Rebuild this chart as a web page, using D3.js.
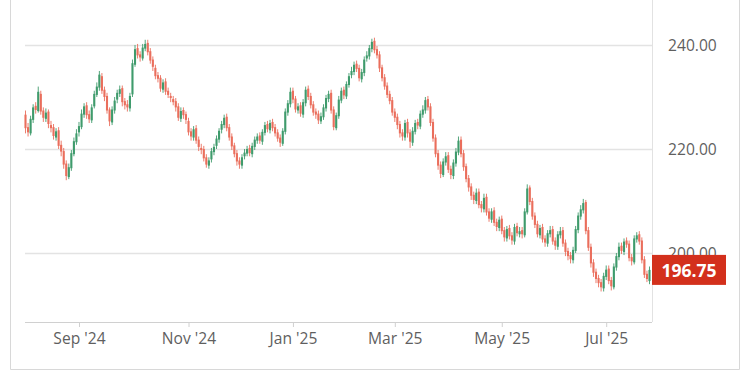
<!DOCTYPE html>
<html><head><meta charset="utf-8">
<script src="https://cdn.jsdelivr.net/npm/d3@7"></script>
<style>
html,body{margin:0;padding:0;background:#fff;}
svg{display:block;}
text{font-family:"Open Sans",sans-serif;}
</style></head>
<body>
<svg id="chart" width="750" height="379"></svg>
<script>
// ---- data ----
const startDate = "2024-08-02";
const holidays = ["2024-09-02","2024-11-28","2024-12-25","2025-01-01","2025-01-20","2025-02-17","2025-04-18","2025-05-26","2025-06-19","2025-07-04"];
const opens = [226.6,224.2,223.0,225.6,228.3,227.3,230.6,227.4,225.8,227.2,224.6,224.2,222.2,223.6,220.8,219.6,217.2,214.6,216.3,219.0,
221.3,223.2,224.2,226.6,228.4,226.7,225.5,228.2,230.4,231.8,234.0,231.4,230.2,227.6,225.1,227.4,229.5,230.6,231.7,229.2,
228.6,227.8,230.5,236.2,239.4,238.2,237.4,239.3,240.4,238.8,237.2,235.6,234.2,233.7,231.4,233.0,231.2,230.2,229.6,229.2,
228.2,225.8,227.5,226.7,225.4,223.4,222.2,224.0,221.8,220.2,220.0,218.4,216.8,218.0,219.4,220.6,221.8,223.7,224.6,226.2,
224.2,222.4,220.7,219.2,217.8,216.8,218.6,219.1,220.2,219.0,220.4,221.6,222.6,221.4,223.1,224.8,223.6,225.2,224.2,223.2,
222.2,221.0,223.3,227.0,228.6,231.2,229.7,227.4,228.4,226.6,228.8,231.6,230.2,228.6,227.2,226.8,225.3,226.1,227.8,229.6,
230.8,227.6,224.0,226.3,229.3,231.4,230.1,232.3,234.2,234.8,236.4,235.6,233.4,234.6,237.4,237.8,239.2,240.8,239.2,238.2,
235.7,233.8,232.2,230.6,229.4,227.2,226.2,224.8,223.2,222.2,225.2,223.2,221.2,223.3,225.2,224.3,226.6,227.4,229.6,228.2,
225.2,222.2,219.2,217.0,215.0,217.4,218.8,216.2,214.8,217.2,219.3,221.8,219.2,216.7,214.4,212.8,211.2,210.0,211.8,209.4,
208.4,210.8,208.0,206.4,208.2,206.0,204.8,206.6,204.4,202.8,204.8,203.4,202.2,205.2,203.6,204.4,203.4,207.8,212.6,210.0,
207.2,205.6,203.4,205.0,202.8,201.8,203.6,204.6,202.4,201.2,203.4,204.4,202.0,200.4,199.6,198.6,200.4,204.4,207.0,208.2,
209.8,204.4,201.2,198.2,196.4,195.2,194.4,193.2,195.4,197.0,194.8,193.4,197.2,199.2,201.4,200.2,202.4,201.8,199.2,198.2,
202.6,203.6,202.4,198.8,196.0,194.6];
const highs = [227.4,225.0,226.4,228.6,229.0,232.0,231.2,228.0,227.8,227.6,225.4,224.8,224.0,224.2,221.6,220.2,217.8,217.2,219.8,222.2,
223.8,225.2,227.6,228.8,229.0,227.4,228.6,231.2,232.8,235.0,234.6,232.0,230.8,228.0,228.2,230.0,231.4,232.2,232.2,229.8,
229.4,230.8,237.2,240.0,240.2,238.8,240.2,241.0,241.0,239.4,237.8,236.2,234.8,234.2,233.4,233.6,231.8,230.8,230.2,229.8,
228.8,228.0,228.0,227.2,226.0,224.0,224.4,224.6,222.4,221.0,220.6,219.0,218.4,220.2,221.0,222.6,224.0,225.4,226.6,226.8,
224.8,223.0,221.2,219.8,218.4,219.0,220.0,220.6,220.8,221.2,222.4,223.0,223.2,223.8,225.2,225.4,225.6,225.8,224.8,223.8,
222.8,224.0,227.8,229.4,231.8,231.8,230.2,228.8,229.0,229.6,232.0,232.2,230.8,229.2,227.8,227.4,227.0,228.6,230.4,231.2,
231.4,228.2,227.0,230.2,231.8,232.0,233.0,234.6,235.8,236.8,237.0,236.2,235.4,237.8,238.8,240.0,241.2,241.4,239.8,238.8,
236.2,234.4,232.8,231.2,230.0,227.8,226.8,225.4,223.8,225.6,225.8,223.8,224.2,225.6,225.8,227.4,228.4,230.0,230.2,228.8,
225.8,222.8,219.8,217.6,218.2,219.4,219.4,216.8,218.0,220.2,222.4,222.4,219.8,217.2,215.0,213.4,211.8,212.4,212.4,210.0,
211.4,211.4,208.6,208.6,208.8,206.6,207.0,207.2,205.0,205.2,205.4,204.0,205.6,205.8,205.0,205.0,208.6,213.2,213.0,210.6,
207.8,206.2,205.4,205.6,203.4,204.4,205.2,205.2,203.0,204.2,205.0,205.0,202.6,201.0,200.2,201.2,205.2,207.8,209.2,210.4,
210.2,205.0,201.8,198.8,197.0,195.8,195.0,196.2,197.6,197.6,195.4,198.0,200.0,202.0,202.0,202.8,203.0,202.4,199.8,203.4,
204.0,204.2,203.0,199.4,196.6,197.4];
const lows = [223.0,222.4,222.6,225.0,226.8,227.0,226.6,225.2,225.2,224.0,223.2,221.8,221.6,220.0,218.6,216.2,214.0,214.2,215.8,218.6,
220.8,222.4,223.8,226.0,225.8,225.0,225.0,227.8,230.0,231.2,230.6,229.2,226.8,224.4,224.6,226.8,228.8,230.0,228.2,227.6,
227.2,227.2,230.0,235.8,237.4,236.8,237.0,238.8,238.0,236.4,235.0,233.4,232.8,231.0,230.8,230.4,229.8,229.0,228.4,227.2,
225.4,225.2,225.8,224.8,222.6,221.6,221.6,221.0,219.6,219.0,217.6,216.4,216.2,217.4,218.8,220.0,221.2,223.0,224.0,223.4,
221.6,219.8,218.4,216.8,216.2,216.2,218.0,218.6,218.6,218.4,219.8,221.0,221.0,220.8,222.6,223.2,223.0,223.4,222.4,221.4,
220.4,220.6,222.8,226.4,228.0,228.8,227.0,226.8,226.2,226.0,228.2,229.4,227.8,226.4,225.8,224.8,224.8,225.6,227.2,229.0,
226.8,223.6,223.6,225.8,228.8,229.6,229.6,231.8,233.6,234.2,234.8,233.0,232.8,234.0,236.8,237.2,238.6,238.4,237.4,234.8,
233.0,231.4,229.8,228.6,226.4,225.2,223.8,222.2,221.6,221.6,222.2,220.2,220.6,222.8,223.8,223.8,226.0,226.8,227.4,224.4,
221.4,218.4,216.0,214.4,214.6,216.8,215.4,214.2,214.2,216.6,218.8,218.4,215.8,213.6,211.8,210.2,209.4,209.4,208.6,207.8,
207.8,207.2,206.0,205.8,205.2,204.2,204.2,203.6,202.2,202.2,202.6,201.6,201.6,203.2,203.0,202.8,203.0,207.4,209.2,206.4,
204.8,203.0,202.8,202.0,201.2,201.2,203.0,201.6,200.6,200.6,202.8,201.2,199.4,198.6,198.0,198.0,200.0,203.8,206.4,207.6,
203.6,200.4,197.2,195.4,194.2,193.4,192.6,192.6,194.8,194.0,192.8,193.0,196.6,198.6,199.8,199.6,201.0,198.4,197.6,197.8,
202.0,201.6,198.0,195.2,194.4,194.0];
const closes = [224.0,223.2,225.8,228.0,227.5,231.0,227.2,226.0,227.0,224.8,224.0,222.5,223.4,220.6,219.5,217.0,214.8,216.5,219.2,221.5,
223.0,224.4,226.8,228.2,226.5,225.7,228.0,230.6,232.0,234.3,231.2,230.0,227.4,225.3,227.6,229.3,230.8,231.5,229.0,228.4,
228.0,230.2,236.5,239.2,238.0,237.6,239.5,240.2,238.6,237.0,235.8,234.0,233.5,231.6,232.8,231.0,230.4,229.8,229.0,228.0,
226.0,227.3,226.5,225.6,223.2,222.4,223.8,221.6,220.4,219.8,218.2,217.0,217.8,219.6,220.4,222.0,223.5,224.8,226.0,224.0,
222.2,220.5,219.0,217.6,217.0,218.4,219.3,220.0,219.2,220.6,221.8,222.4,221.6,223.3,224.6,223.8,225.0,224.0,223.0,222.0,
221.2,223.5,227.2,228.8,231.0,229.5,227.6,228.2,226.8,229.0,231.4,230.0,228.4,227.0,226.6,225.5,226.3,228.0,229.8,230.6,
227.4,224.2,226.5,229.5,231.2,230.3,232.5,234.0,235.0,236.2,235.4,233.6,234.8,237.2,238.0,239.4,240.6,239.0,238.0,235.5,
233.6,232.0,230.4,229.2,227.0,226.0,224.6,223.0,222.4,225.0,223.0,221.4,223.5,225.0,224.5,226.8,227.6,229.4,228.0,225.0,
222.0,219.0,216.8,215.2,217.6,218.6,216.0,215.0,217.4,219.5,221.6,219.0,216.5,214.2,212.6,211.0,210.2,211.6,209.2,208.6,
210.6,207.8,206.6,208.0,205.8,205.0,206.4,204.2,203.0,204.6,203.2,202.4,205.0,203.8,204.2,203.6,208.0,212.4,209.8,207.0,
205.4,203.6,204.8,202.6,202.0,203.8,204.4,202.2,201.4,203.6,204.2,201.8,200.2,199.4,198.8,200.6,204.6,207.2,208.4,209.6,
204.2,201.0,198.0,196.2,195.0,194.2,193.4,195.6,196.8,194.6,193.6,197.4,199.4,201.2,200.4,202.2,201.6,199.0,198.4,202.8,
203.4,202.2,198.6,195.8,195.0,196.75];
const yTicks = [200, 220, 240];
const tickMonths = ["2024-09","2024-11","2025-01","2025-03","2025-05","2025-07"];
const lastPrice = 196.75;

// ---- trading dates (categories) ----
const parse = d3.timeParse("%Y-%m-%d");
const fmtDay = d3.timeFormat("%Y-%m-%d");
const dates = [];
{
  let d = parse(startDate);
  while (dates.length < closes.length) {
    const wd = d.getDay();
    if (wd !== 0 && wd !== 6 && !holidays.includes(fmtDay(d))) dates.push(fmtDay(d));
    d = d3.timeDay.offset(d, 1);
  }
}
const data = dates.map((d, i) => ({date: d, o: opens[i], h: highs[i], l: lows[i], c: closes[i]}));

// ---- layout ----
const svg = d3.select("#chart");
const plotLeft = 25, plotRight = 652, plotBottom = 322;
const green = "#3f9b6c", red = "#ea6e5c";
const labelColor = "#5f5f5f";
const squeeze = 0.92;

const x = d3.scalePoint().domain(dates).range([25.5, 649.5]);
const y = d3.scaleLinear().domain([186.73, 248.65]).range([plotBottom, 0]);

// frame
svg.append("path")
  .attr("d", `M10.5,0 V369.5 H739.5 V0`)
  .attr("fill", "none").attr("stroke", "#d8d8d8").attr("stroke-width", 1);
svg.append("line").attr("x1", plotRight + 0.5).attr("x2", plotRight + 0.5).attr("y1", 0).attr("y2", plotBottom)
  .attr("stroke", "#e2e2e2");

// grid
svg.append("g").selectAll("line").data(yTicks).join("line")
  .attr("x1", plotLeft).attr("x2", plotRight)
  .attr("y1", d => Math.round(y(d)) + 0.5).attr("y2", d => Math.round(y(d)) + 0.5)
  .attr("stroke", "#e3e3e3").attr("stroke-width", 1.3);

// y labels (condensed look)
svg.append("g").selectAll("text").data(yTicks).join("text")
  .attr("transform", d => `translate(668,${y(d)}) scale(${squeeze},1)`)
  .attr("dy", "0.36em")
  .attr("font-size", 17).attr("fill", labelColor)
  .text(d => d3.format(".2f")(d));

// x axis
const tickDates = tickMonths.map(m => dates.find(d => d.startsWith(m)));
const xAxis = d3.axisBottom(x).tickValues(tickDates)
  .tickFormat(d => d3.timeFormat("%b '%y")(parse(d))).tickSize(5).tickPadding(5);
const gx = svg.append("g").attr("transform", `translate(0,${plotBottom})`).call(xAxis);
gx.select(".domain").attr("d", `M${plotLeft},0.5H${plotRight}`).attr("stroke", "#d0d0d0");
gx.selectAll(".tick line").attr("stroke", "#d0d0d0");
gx.selectAll(".tick text").attr("font-size", 17).attr("fill", labelColor).attr("font-family", "Open Sans")
  .attr("transform", `scale(${squeeze},1)`);

// candles
const cg = svg.append("g");
const candle = cg.selectAll("g").data(data).join("g");
candle.append("line")
  .attr("x1", d => x(d.date)).attr("x2", d => x(d.date))
  .attr("y1", d => y(d.h)).attr("y2", d => y(d.l))
  .attr("stroke", d => d.c >= d.o ? green : red).attr("stroke-width", 0.9);
candle.append("rect")
  .attr("x", d => x(d.date) - 1.05).attr("width", 2.1)
  .attr("y", d => y(Math.max(d.o, d.c)))
  .attr("height", d => Math.max(1, Math.abs(y(d.o) - y(d.c))))
  .attr("fill", d => d.c >= d.o ? green : red);

// price tag
const ty = y(lastPrice);
svg.append("rect").attr("x", plotRight).attr("y", ty - 15).attr("width", 74).attr("height", 30).attr("fill", "#d3301c");
svg.append("text")
  .attr("transform", `translate(${plotRight + 37},${ty}) scale(0.95,1)`)
  .attr("dy", "0.36em")
  .attr("text-anchor", "middle").attr("font-size", 18.5).attr("font-weight", "bold").attr("fill", "#fff")
  .text(d3.format(".2f")(lastPrice));
</script>
</body></html>
